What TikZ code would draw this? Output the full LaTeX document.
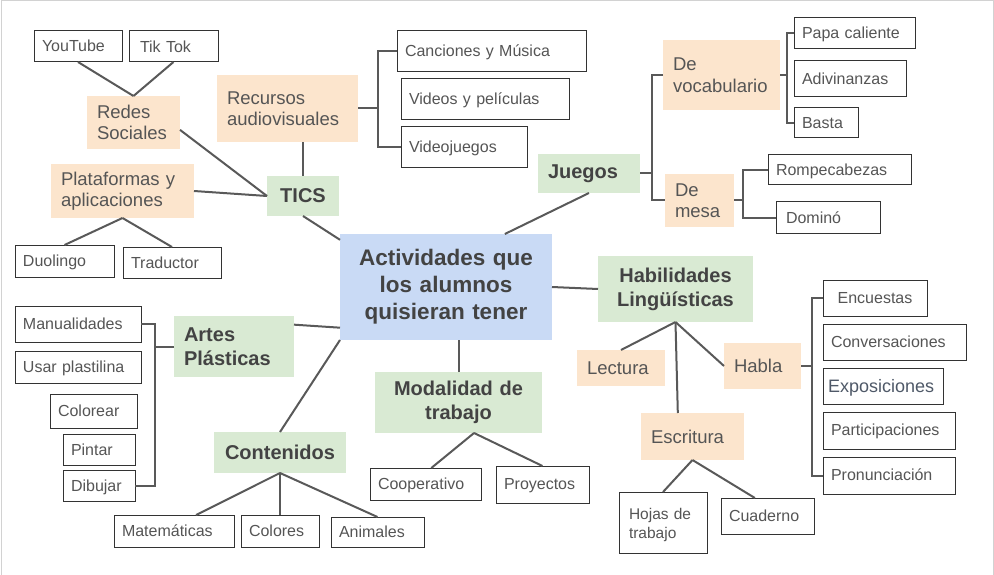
\documentclass[tikz,border=0pt]{standalone}
\usepackage{fontspec}
\setmainfont{Liberation Sans}
\usetikzlibrary{calc}

\definecolor{txtgray}{HTML}{555555}
\definecolor{boldgray}{HTML}{434343}
\definecolor{expogray}{HTML}{4F5968}
\definecolor{boxline}{HTML}{333333}
\definecolor{linkgray}{HTML}{595959}
\definecolor{peach}{HTML}{FCE5CD}
\definecolor{mint}{HTML}{D9EAD3}
\definecolor{skyblue}{HTML}{C9DAF5}

\tikzset{
  base/.style={anchor=north west, inner ysep=0pt, outer sep=0pt},
  leaf/.style={base, draw=boxline, line width=1pt, fill=white, text=txtgray,
    inner xsep=8pt, align=left, text depth=1pt, font=\fontsize{16}{19}\selectfont},
  sub/.style={base, fill=peach, text=txtgray, inner xsep=10pt, align=left,
    font=\fontsize{18.5}{21.5}\selectfont},
  topic/.style={base, fill=mint, text=boldgray, inner xsep=10pt, align=center,
    font=\fontsize{20}{24}\selectfont\bfseries},
  hub/.style={base, fill=skyblue, text=boldgray, inner xsep=10pt, align=center,
    font=\fontsize{22.5}{27}\selectfont\bfseries},
  link/.style={draw=linkgray, line width=2pt}
}

\begin{document}
\begin{tikzpicture}[x=1pt, y=-1pt]
    \useasboundingbox (0,0) rectangle (994,575);
    \draw[gray!35, line width=1pt] (1,575) -- (1,1) -- (993,1) -- (993,575);

    % Central node
    \node[hub, text width=192pt, minimum height=106pt] (ctr) at (340,234) {Actividades que\\los alumnos\\quisieran tener};

    % TICS branch
    \node[topic, text width=52pt, minimum height=40pt] (tics) at (267,176) {TICS};
    \node[sub, text width=73pt, minimum height=53pt] (red) at (87,96) {Redes\\Sociales};
    \node[sub, text width=121pt, minimum height=67pt] (rec) at (217,75) {Recursos\\audiovisuales};
    \node[sub, text width=123pt, minimum height=54pt] (pla) at (51,164) {Plataformas y\\aplicaciones};
    \node[leaf, text width=72pt, minimum height=31pt] (yt) at (34,31) {YouTube};
    \node[leaf, text width=73pt, minimum height=31pt, text depth=-3pt] (tt) at (129,31) {\hspace*{3pt}Tik Tok};
    \node[leaf, text width=83pt, minimum height=32pt, text depth=-2pt] (duo) at (15,245) {Duolingo};
    \node[leaf, text width=82pt, minimum height=31pt, text depth=-2pt] (tra) at (123,247) {Traductor};
    \node[leaf, text width=173pt, minimum height=41pt] (can) at (397,31) {Canciones y Música};
    \node[leaf, text width=152pt, minimum height=41pt] (vid) at (401,79) {Videos y películas};
    \node[leaf, text width=110pt, minimum height=41pt] (vjg) at (401,127) {Videojuegos};

    \draw[link] (tics.south) -- (ctr.156);
    \draw[link] (tics.north) -- (tics.north |- rec.south);
    \draw[link] (red.-9) -- (tics.west);
    \draw[link] (pla.east) -- (tics.west);
    \draw[link] (yt.south) -- (red.north);
    \draw[link] (tt.south) -- (red.north);
    \draw[link] (pla.south) -- (duo.north);
    \draw[link] (pla.south) -- (tra.north);
    \draw[link] (rec.east) -- ++(20,0);
    \draw[link] (can.west) -| ($(rec.east)+(20,0)$) |- (vjg.west);

    % Juegos branch
    \node[topic, text width=82pt, minimum height=39pt, align=left] (jue) at (538,154) {Juegos};
    \node[sub, text width=97pt, minimum height=70pt] (voc) at (663,40) {De\\vocabulario};
    \node[sub, text width=49pt, minimum height=53pt] (mes) at (665,174) {De\\mesa};
    \node[leaf, text width=105pt, minimum height=31pt] (papa) at (794,18) {Papa caliente};
    \node[leaf, text width=96pt, minimum height=36pt] (adi) at (794,61) {Adivinanzas};
    \node[leaf, text width=48pt, minimum height=30pt, text depth=-3pt] (bas) at (794,108) {Basta};
    \node[leaf, text width=127pt, minimum height=30pt, text depth=-2pt] (rom) at (768,155) {Rompecabezas};
    \node[leaf, text width=88pt, minimum height=31pt, text depth=-3pt] (dom) at (776,202) {\hspace*{2pt}Dominó};

    \draw[link] (jue.south) -- (ctr.42);
    \draw[link] (jue.east) -- ++(12,0);
    \draw[link] (voc.west) -| ($(jue.east)+(12,0)$) |- (mes.west);
    \draw[link] (voc.east) -- ++(7,0);
    \draw[link] (papa.west) -| ($(voc.east)+(7,0)$) |- (bas.west);
    \draw[link] (mes.east) -- ++(9,0);
    \draw[link] (rom.west) -| ($(mes.east)+(9,0)$) |- (dom.west);

    % Habilidades branch
    \node[topic, text width=135pt, minimum height=66pt] (hl) at (598,256) {Habilidades\\Lingüísticas};
    \node[sub, text width=68pt, minimum height=36pt] (lec) at (577,350) {Lectura};
    \node[sub, text width=57pt, minimum height=46pt] (hab) at (724,343) {Habla};
    \node[sub, text width=83pt, minimum height=47pt] (esc) at (641,413) {Escritura};
    \node[leaf, text width=68pt, minimum height=61pt, inner xsep=10pt, text depth=17pt,
      font=\fontsize{15.5}{19}\selectfont] (hoj) at (619,492) {Hojas de\\trabajo};
    \node[leaf, text width=77pt, minimum height=36pt] (cua) at (721,498) {Cuaderno};
    \node[leaf, text width=88pt, minimum height=36pt, align=center] (enc) at (823,280) {Encuestas};
    \node[leaf, text width=127pt, minimum height=36pt, text depth=-2pt] (conv) at (823,324) {Conversaciones};
    \node[leaf, minimum height=36pt, inner xsep=5pt, text width=110pt,
      text=expogray, font=\fontsize{18}{21}\selectfont] (expo) at (823,368) {Exposiciones};
    \node[leaf, text width=116pt, minimum height=37pt] (part) at (823,412) {Participaciones};
    \node[leaf, text width=116pt, minimum height=37pt] (pron) at (823,457) {Pronunciación};

    \draw[link] (ctr.east) -- (hl.west);
    \draw[link] (hl.south) -- (lec.north);
    \draw[link] (hl.south) -- (esc.122);
    \draw[link] (hl.south) -- (hab.west);
    \draw[link] (esc.south) -- (hoj.north);
    \draw[link] (esc.south) -- (cua.125);
    \draw[link] (hab.east) -- ++(11,0);
    \draw[link] (enc.west) -| ($(hab.east)+(11,0)$) |- (pron.west);

    % Modalidad branch
    \node[topic, text width=147pt, minimum height=61pt] (mod) at (375,372) {Modalidad de\\trabajo};
    \node[leaf, text width=95pt, minimum height=32pt, text depth=-2pt] (coo) at (370,468) {Cooperativo};
    \node[leaf, text width=77pt, minimum height=37pt] (pry) at (496,466) {Proyectos};

    \draw[link] (mod.north) -- (mod.north |- ctr.south);
    \draw[link] (mod.-63) -- (coo.70);
    \draw[link] (mod.-63) -- (pry.north);

    % Artes branch
    \node[topic, text width=100pt, minimum height=61pt, align=left] (art) at (174,316) {Artes\\Plásticas};
    \node[leaf, text width=110pt, minimum height=36pt] (man) at (15,306) {Manualidades};
    \node[leaf, text width=110pt, minimum height=32pt, text depth=-2pt] (usa) at (15,351) {Usar plastilina};
    \node[leaf, text width=71pt, minimum height=34pt] (colr) at (50,394) {Colorear};
    \node[leaf, text width=56pt, minimum height=31pt, text depth=-2pt] (pin) at (63,434) {Pintar};
    \node[leaf, text width=56pt, minimum height=31pt, text depth=-2pt] (dib) at (63,470) {Dibujar};

    \draw[link] (art.20) -- (ctr.201);
    \draw[link] (art.west) -- ++(-19,0);
    \draw[link] (man.east) -| ($(art.west)+(-19,0)$) |- (dib.east);

    % Contenidos branch
    \node[topic, text width=112pt, minimum height=41pt] (con) at (214,432) {Contenidos};
    \node[leaf, text width=104pt, minimum height=32pt, text depth=-2pt] (mat) at (114,515) {Matemáticas};
    \node[leaf, text width=62pt, minimum height=32pt] (col) at (241,515) {Colores};
    \node[leaf, text width=77pt, minimum height=30pt, text depth=-1pt] (ani) at (331,517) {Animales};

    \draw[link] (ctr.south west) -- (con.north);
    \draw[link] (con.south) -- (mat.36);
    \draw[link] (con.south) -- (col.north);
    \draw[link] (con.south) -- (ani.north);
\end{tikzpicture}
\end{document}
